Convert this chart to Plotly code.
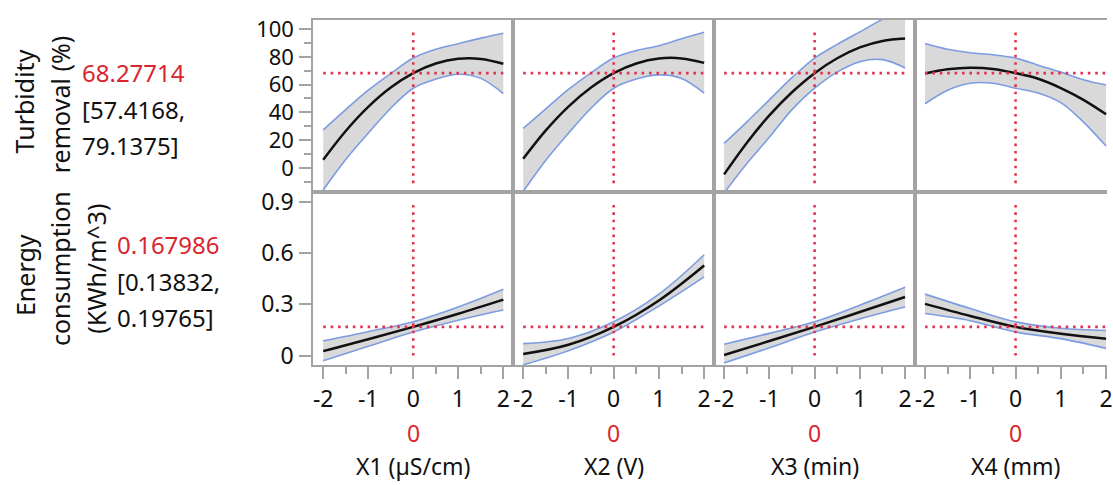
import plotly.graph_objects as go

# ---------------- data ----------------
factor_names = ["X1 (µS/cm)", "X2 (V)", "X3 (min)", "X4 (mm)"]
factor_current = [0, 0, 0, 0]

x_top = [-2, -1.5, -1, -0.5, 0, 0.5, 1, 1.5, 2]
x_bottom = [-2, -1, 0, 1, 2]

turb_current = 68.27714
turb_ci_text = ["[57.4168,", "79.1375]"]
energy_current = 0.167986
energy_ci_text = ["[0.13832,", "0.19765]"]

# Turbidity removal (%) profiles
turb_x1_pred = [5.8, 26.6, 44.0, 57.9, 68.28, 75.2, 78.6, 78.5, 75.0]
turb_x1_upper = [27.4, 42.0, 56.0, 68.0, 79.14, 85.5, 89.5, 93.5, 97.0]
turb_x1_lower = [-16.0, 6.0, 25.0, 43.0, 57.42, 64.0, 67.5, 64.5, 53.5]

turb_x2_pred = [6.5, 27.0, 44.2, 57.9, 68.28, 75.2, 78.8, 78.9, 75.7]
turb_x2_upper = [28.5, 42.5, 56.5, 68.5, 79.14, 84.5, 88.0, 93.0, 97.7]
turb_x2_lower = [-17.0, 5.5, 25.0, 43.0, 57.42, 64.0, 67.0, 64.5, 53.9]

turb_x3_pred = [-4.7, 18.0, 37.8, 54.5, 68.28, 79.0, 86.8, 91.5, 93.2]
turb_x3_upper = [17.6, 33.0, 49.0, 65.0, 79.14, 89.0, 98.0, 107.0, 114.0]
turb_x3_lower = [-18.0, 3.0, 22.0, 42.0, 57.42, 69.0, 76.5, 78.0, 72.0]

turb_x4_pred = [68.0, 71.0, 72.2, 71.3, 68.28, 64.2, 57.5, 49.0, 38.6]
turb_x4_upper = [89.7, 85.5, 83.0, 81.5, 79.14, 74.0, 69.0, 63.5, 59.7]
turb_x4_lower = [46.2, 56.0, 61.0, 61.0, 57.42, 54.0, 47.0, 33.0, 15.7]

# Energy consumption (KWh/m^3) profiles
energy_x1_pred = [0.026, 0.095, 0.168, 0.245, 0.328]
energy_x1_upper = [0.086, 0.140, 0.198, 0.285, 0.389]
energy_x1_lower = [-0.031, 0.054, 0.138, 0.207, 0.267]

energy_x2_pred = [0.009, 0.063, 0.168, 0.323, 0.528]
energy_x2_upper = [0.070, 0.100, 0.198, 0.360, 0.591]
energy_x2_lower = [-0.054, 0.028, 0.138, 0.290, 0.461]

energy_x3_pred = [0.003, 0.085, 0.168, 0.255, 0.343]
energy_x3_upper = [0.066, 0.130, 0.198, 0.295, 0.400]
energy_x3_lower = [-0.044, 0.045, 0.138, 0.215, 0.284]

energy_x4_pred = [0.303, 0.232, 0.168, 0.128, 0.099]
energy_x4_upper = [0.360, 0.276, 0.198, 0.160, 0.147]
energy_x4_lower = [0.246, 0.204, 0.138, 0.099, 0.042]

turb_ticks = [0, 20, 40, 60, 80, 100]
energy_ticks = [0, 0.3, 0.6, 0.9]
energy_ticktext = ["0", "0.3", "0.6", "0.9"]
x_ticks = [-2, -1, 0, 1, 2]

# ---------------- styling ----------------
W, H = 1113, 485
FONT = "Noto Sans"
FS = 23
FS_YT = 22
FS_LAB = 24
FS_ROT = 25
FRAME = "#a3a3a3"
BAND = "#d9d9d9"
BLUE = "#7c9ce2"
RED = "#e0354f"
TXTRED = "#d9262e"

panel_px = [(315, 516), (516, 718), (718, 920), (920, 1113)]
top_px = (13, 190)
bot_px = (190, 367)
xr_full = [-2.22, 2.22]
xr_last = [-2.22, 2.02]
turb_range = [-17.6, 106.8]
energy_range = [-0.055, 0.957]

def ydom(py):
    return [1 - py[1] / H, 1 - py[0] / H]

turb_sets = [(turb_x1_pred, turb_x1_upper, turb_x1_lower),
             (turb_x2_pred, turb_x2_upper, turb_x2_lower),
             (turb_x3_pred, turb_x3_upper, turb_x3_lower),
             (turb_x4_pred, turb_x4_upper, turb_x4_lower)]
energy_sets = [(energy_x1_pred, energy_x1_upper, energy_x1_lower),
               (energy_x2_pred, energy_x2_upper, energy_x2_lower),
               (energy_x3_pred, energy_x3_upper, energy_x3_lower),
               (energy_x4_pred, energy_x4_upper, energy_x4_lower)]

fig = go.Figure()

def add_profile(xs, pred, upper, lower, xa, ya):
    fig.add_trace(go.Scatter(x=xs, y=lower, mode="lines", line=dict(color=BLUE, width=1.6, shape="spline"),
                             xaxis=xa, yaxis=ya, showlegend=False, hoverinfo="skip"))
    fig.add_trace(go.Scatter(x=xs, y=upper, mode="lines", line=dict(color=BLUE, width=1.6, shape="spline"),
                             fill="tonexty", fillcolor=BAND,
                             xaxis=xa, yaxis=ya, showlegend=False, hoverinfo="skip"))
    fig.add_trace(go.Scatter(x=xs, y=pred, mode="lines", line=dict(color="#111111", width=2.5, shape="spline"),
                             xaxis=xa, yaxis=ya, showlegend=False))

for i in range(4):
    n_top = i + 1
    n_bot = i + 5
    xa_t = "x" if n_top == 1 else f"x{n_top}"
    ya_t = "y" if n_top == 1 else f"y{n_top}"
    xa_b, ya_b = f"x{n_bot}", f"y{n_bot}"
    p, u, l = turb_sets[i]
    add_profile(x_top, p, u, l, xa_t, ya_t)
    p, u, l = energy_sets[i]
    add_profile(x_bottom, p, u, l, xa_b, ya_b)

shapes = []
dot = dict(color=RED, width=2.6, dash="2.6px,4.8px")
for i in range(4):
    n_top = i + 1
    n_bot = i + 5
    xr_t = "x" if n_top == 1 else f"x{n_top}"
    yr_t = "y" if n_top == 1 else f"y{n_top}"
    xr_b, yr_b = f"x{n_bot}", f"y{n_bot}"
    cur = factor_current[i]
    shapes += [
        dict(type="line", xref=xr_t, yref=yr_t, x0=-2, x1=2, y0=turb_current, y1=turb_current, line=dot, layer="above"),
        dict(type="line", xref=xr_t, yref=yr_t, x0=cur, x1=cur, y0=-11, y1=100, line=dot, layer="above"),
        dict(type="line", xref=xr_b, yref=yr_b, x0=-2, x1=2, y0=energy_current, y1=energy_current, line=dot, layer="above"),
        dict(type="line", xref=xr_b, yref=yr_b, x0=cur, x1=cur, y0=0, y1=0.9, line=dot, layer="above"),
    ]

layout = dict(
    width=W, height=H,
    margin=dict(l=0, r=0, t=0, b=0),
    paper_bgcolor="white", plot_bgcolor="white",
    font=dict(family=FONT, size=FS, color="#111111"),
    showlegend=False,
    shapes=shapes,
)

base_axis = dict(showgrid=False, zeroline=False, showline=True, linecolor=FRAME, linewidth=2,
                 fixedrange=True)

for i in range(4):
    xd = [panel_px[i][0] / W, panel_px[i][1] / W]
    xr = xr_last if i == 3 else xr_full
    n_top = i + 1
    n_bot = i + 5
    kx_t = "xaxis" if n_top == 1 else f"xaxis{n_top}"
    ky_t = "yaxis" if n_top == 1 else f"yaxis{n_top}"
    kx_b, ky_b = f"xaxis{n_bot}", f"yaxis{n_bot}"
    ya_t = "y" if n_top == 1 else f"y{n_top}"
    xa_t = "x" if n_top == 1 else f"x{n_top}"
    layout[kx_t] = dict(base_axis, domain=xd, range=xr, anchor=ya_t, mirror=True,
                        showticklabels=False, ticks="")
    layout[kx_b] = dict(base_axis, domain=xd, range=xr, anchor=f"y{n_bot}", mirror=True,
                        tickmode="array", tickvals=x_ticks, ticktext=[str(v) for v in x_ticks],
                        ticks="outside", ticklen=12, tickwidth=1.5, tickcolor=FRAME,
                        ticklabeloverflow="allow",
                        minor=dict(tickvals=[-1.5, -0.5, 0.5, 1.5], ticks="outside", ticklen=7,
                                   tickwidth=1.5, tickcolor=FRAME),
                        tickfont=dict(size=FS, family=FONT, color="#111111"))
    if i == 0:
        layout[ky_t] = dict(base_axis, domain=ydom(top_px), range=turb_range, anchor=xa_t, mirror=True,
                            tickmode="array", tickvals=turb_ticks,
                            ticks="outside", ticklen=12, tickwidth=1.5, tickcolor=FRAME,
                            minor=dict(tickvals=[-10, 10, 30, 50, 70, 90], ticks="outside", ticklen=7,
                                       tickwidth=1.5, tickcolor=FRAME),
                            ticklabelstandoff=1,
                            tickfont=dict(size=FS_YT, family=FONT, color="#111111"))
        layout[ky_b] = dict(base_axis, domain=ydom(bot_px), range=energy_range, anchor=f"x{n_bot}", mirror=True,
                            tickmode="array", tickvals=energy_ticks, ticktext=energy_ticktext,
                            ticks="outside", ticklen=12, tickwidth=1.5, tickcolor=FRAME,
                            ticklabelstandoff=1,
                            tickfont=dict(size=FS, family=FONT, color="#111111"))
    else:
        mir = i != 3
        layout[ky_t] = dict(base_axis, domain=ydom(top_px), range=turb_range, anchor=xa_t, mirror=mir,
                            showticklabels=False, ticks="")
        layout[ky_b] = dict(base_axis, domain=ydom(bot_px), range=energy_range, anchor=f"x{n_bot}", mirror=mir,
                            showticklabels=False, ticks="")

fig.update_layout(**layout)

ann = []
def px_ann(text, x, y, color="#111111", angle=0, xanchor="center", size=FS_LAB):
    ann.append(dict(text=text, x=x / W, y=1 - y / H, xref="paper", yref="paper", showarrow=False,
                    textangle=angle, xanchor=xanchor, yanchor="middle",
                    font=dict(family=FONT, size=size, color=color)))

# response labels (rotated)
px_ann("Turbidity", 24, 97, angle=-90, size=FS_ROT)
px_ann("removal (%)", 60, 100, angle=-90, size=FS_ROT)
px_ann("Energy", 25, 275, angle=-90, size=FS_ROT)
px_ann("consumption", 61, 268, angle=-90, size=FS_ROT)
px_ann("(KWh/m^3)", 97, 268, angle=-90, size=FS_ROT)

# current values and intervals
px_ann(f"{turb_current:.5f}", 80, 67, color=TXTRED, xanchor="left")
px_ann(turb_ci_text[0], 80, 105, xanchor="left")
px_ann(turb_ci_text[1], 80, 142, xanchor="left")
px_ann(f"{energy_current:.6f}", 116, 244, color=TXTRED, xanchor="left")
px_ann(energy_ci_text[0], 116, 281, xanchor="left")
px_ann(energy_ci_text[1], 116, 318, xanchor="left")

# factor current values (red) and names
for i in range(4):
    xa = f"x{i + 5}"
    ann.append(dict(text=str(factor_current[i]), x=factor_current[i], xref=xa, y=1 - 437 / H, yref="paper",
                    showarrow=False, xanchor="center", yanchor="middle",
                    font=dict(family=FONT, size=FS, color=TXTRED)))
    ann.append(dict(text=factor_names[i], x=factor_current[i], xref=xa, y=1 - 471 / H, yref="paper",
                    showarrow=False, xanchor="center", yanchor="middle",
                    font=dict(family=FONT, size=FS, color="#111111")))

fig.update_layout(annotations=ann)
fig.write_html("out.html", config={"displayModeBar": False},
               post_script="document.body.style.margin='0';document.body.style.overflow='hidden';")
